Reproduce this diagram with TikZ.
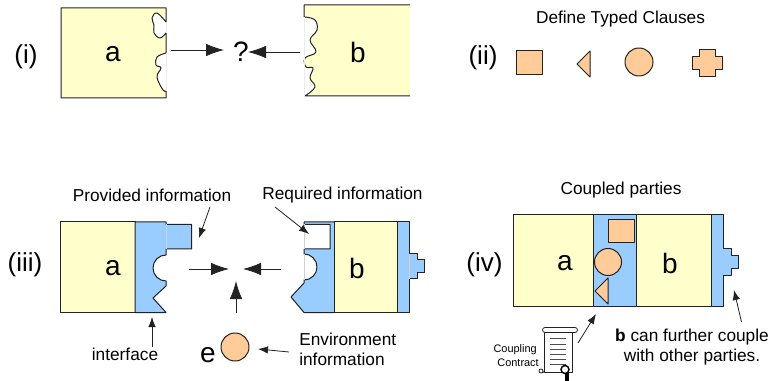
\documentclass[tikz,border=0pt]{standalone}
\usepackage{fontspec}
\setmainfont{Liberation Sans}
\usetikzlibrary{arrows.meta}
\definecolor{yel}{HTML}{FFFFCC}
\definecolor{blu}{HTML}{99CCFF}
\definecolor{ora}{HTML}{FFCC99}
\definecolor{edge}{HTML}{222222}
\tikzset{
  yelbox/.style={fill=yel,draw=edge,line width=0.75pt,line join=round},
  blubox/.style={fill=blu,draw=edge,line width=0.75pt,line join=round},
  clause/.style={fill=ora,draw=edge,line width=0.75pt,line join=round},
  ptr/.style={draw=edge,line width=0.6pt,-{Latex[length=18*0.75pt,width=12.5*0.75pt]}},
  sptr/.style={draw=edge,line width=0.6pt,-{Latex[length=10*0.75pt,width=7.5*0.75pt]}},
  biglabel/.style={font=\fontsize{19.5}{22}\selectfont,inner sep=0pt},
  letter/.style={font=\fontsize{21}{24}\selectfont,inner sep=0pt},
  txt/.style={font=\fontsize{12.95}{15}\selectfont,inner sep=0pt},
  tiny/.style={font=\fontsize{8.2}{10}\selectfont,inner sep=0pt,anchor=east},
  faint/.style={draw=gray!35,line width=0.5pt},
}
\begin{document}
\begin{tikzpicture}[x=0.75pt,y=-0.75pt]
\useasboundingbox (0,0) rectangle (768,381);
\clip (0,0) rectangle (768,381);
% ---- (i)
\draw[yelbox] (166,22) -- plot[smooth,tension=0.65] coordinates {(166,22) (157,13) (152,18) (154,25) (154,33) (160,38) (166,33)}
  -- (166,53) -- plot[smooth,tension=0.65] coordinates {(166,53) (157,57) (156,65) (161,68) (157,77) (163,90) (166,91)}
  -- (166,98) -- (61,98) -- (61,8) -- (166,8) -- cycle;
\draw[gray!15,line width=0.6pt] (166,22) -- (166,33) (166,53) -- (166,91);
\fill[yel] (305,17) -- plot[smooth,tension=0.65] coordinates {(305,17) (315,20) (317,30) (310,40) (316,52) (305,58) (306,67) (313,68) (310,78) (315,87) (305,96)} -- (410,96) -- (410,5) -- (304,5) -- cycle;
\draw[yelbox,fill=none] (410,5) -- (304,5) -- (304,17) -- plot[smooth,tension=0.65] coordinates {(305,17) (315,20) (317,30) (310,40) (316,52) (305,58) (306,67) (313,68) (310,78) (315,87) (305,96)} -- (410,96);
\draw[gray!15,line width=0.6pt] (304,17) -- (304,96);
\node[letter] (la) at (113,54) {a};
\node[letter] (lb) at (358,52) {b};
\node[biglabel] (li) at (26,57) {(i)};
\node[letter] (q) at (241,52) {?};
\coordinate (ia) at (171,50);
\coordinate (ib) at (300,52);
\draw[ptr] (ia) -- (224,50);
\draw[ptr] (ib) -- (248,52);
% ---- (ii)
\node[txt] (t2) at (620.5,19) {Define Typed Clauses};
\node[biglabel] (lii) at (483,58) {(ii)};
\draw[clause] (516,51) rectangle (542,75);
\draw[clause] (590,51) -- (577,64) -- (590,77) -- cycle;
\node[clause,circle,minimum size=28*0.75pt,inner sep=0pt] (c2) at (639,62) {};
\draw[clause] (699,50) -- (715,50) -- (715,57) -- (722,57) -- (722,70) -- (715,70) -- (715,77) -- (699,77) -- (699,70) -- (692,70) -- (692,57) -- (699,57) -- cycle;
% ---- (iii)
\draw[yelbox] (60,222) rectangle (135,312.5);
\draw[blubox] (135,222) -- (166,222) -- (166,224.5) -- (191.5,224.5) -- (191.5,249) -- (166,249) -- (166,255)
  arc[start angle=-90,end angle=-270,radius=13] -- (166,286) -- (153,298) -- (166,312.5) -- (135,312.5) -- cycle;
\draw[faint] (166,224.5) -- (166,249);
\draw[blubox] (304,222) -- (334.5,222) -- (334.5,312.5) -- (304,312.5) -- (291,297) -- (304,283) -- (304,280)
  arc[start angle=90,end angle=-90,radius=13] -- (304,249) -- (330,249) -- (330,224.5) -- (304,224.5) -- cycle;
\draw[faint] (304,224.5) -- (304,249) (304,254) -- (304,280);
\draw[yelbox] (334.5,222) rectangle (397,312.5);
\draw[blubox] (397,222) -- (409,222) -- (409,254) -- (417,254) -- (417,260) -- (424,260) -- (424,273) -- (417,273) -- (417,279) -- (409,279) -- (409,312.5) -- (397,312.5) -- cycle;
\draw[faint] (409,254) -- (409,279);
\node[biglabel] (liii) at (25,265) {(iii)};
\node[letter] (la3) at (113,268) {a};
\node[letter] (lb3) at (357,268) {b};
\node[txt] (pi) at (152,195) {Provided information};
\node[txt] (ri) at (342.5,195) {Required information};
\node[txt] (ifc) at (125,354) {interface};
\node[txt,align=left,anchor=west] (ei) at (299,349) {Environment\\information};
\node[letter] (le) at (208,355) {e};
\node[clause,circle,minimum size=28*0.75pt,inner sep=0pt] (ce) at (235,347) {};
\coordinate (a1) at (189,269); \coordinate (a2) at (281,269); \coordinate (a3) at (236,313);
\coordinate (a4) at (210,207); \coordinate (a5) at (275,207); \coordinate (a6) at (152,347); \coordinate (a7) at (289,352);
\draw[ptr] (a1) -- (229,269);
\draw[ptr] (a2) -- (243,269);
\draw[ptr] (a3) -- (236,281);
\draw[sptr] (a4) -- (199,238);
\draw[sptr] (a5) -- (309,234);
\draw[sptr] (a6) -- (152,317);
\draw[sptr] (a7) -- (258,349);
% ---- (iv)
\node[txt] (t4) at (621,190) {Coupled parties};
\draw[yelbox] (513,215) rectangle (593,306);
\draw[blubox] (593,215) rectangle (636,306);
\draw[yelbox] (636,215) rectangle (711,306);
\draw[blubox] (711,215) -- (723,215) -- (723,249) -- (731,249) -- (731,256) -- (738,256) -- (738,269) -- (731,269) -- (731,276) -- (723,276) -- (723,306) -- (711,306) -- cycle;
\draw[clause] (608,220) rectangle (634,243);
\node[clause,circle,minimum size=27*0.75pt,inner sep=0pt] (c4) at (608,262) {};
\draw[clause] (608,278) -- (595,291) -- (608,304) -- cycle;
\node[biglabel] (liv) at (484.5,265) {(iv)};
\node[letter] (la4) at (565,263) {a};
\node[letter] (lb4) at (670,263) {b};
\node[txt] (n1) at (692,337) {\textbf{b} can further couple};
\node[txt] (n2) at (692,357) {with other parties.};
\node[tiny] (cp1) at (537,350) {Coupling};
\node[tiny] (cp2) at (539,363) {Contract};
\coordinate (b1) at (578,343); \coordinate (b2) at (741.5,322);
\draw[sptr] (b1) -- (596,314);
\draw[sptr] (b2) -- (734,290);
% scroll
\draw[fill=white,draw=edge,line width=0.6pt,line join=round] (544,330) -- (544,372) -- (572,372) -- (572,330) -- cycle;
\draw[fill=white,draw=edge,line width=0.6pt] (545,327.5) -- (575,327.5) arc[start angle=-90,end angle=90,radius=2.5] -- (545,332.5) arc[start angle=90,end angle=270,radius=2.5] -- cycle;
\draw[draw=edge,line width=0.6pt] (541,371) circle[radius=2] (541,373) -- (544,372);
\foreach \yy in {338,344,349,354,359,364} \draw[edge!80,line width=0.6pt] (550,\yy) -- (566,\yy);
\fill[black] (565,373) -- (569,373) -- (569,381) -- (565,381) -- cycle;
\draw[fill=white,draw=black,line width=1.1pt] (565,369.5) circle[radius=4];
\end{tikzpicture}
\end{document}
